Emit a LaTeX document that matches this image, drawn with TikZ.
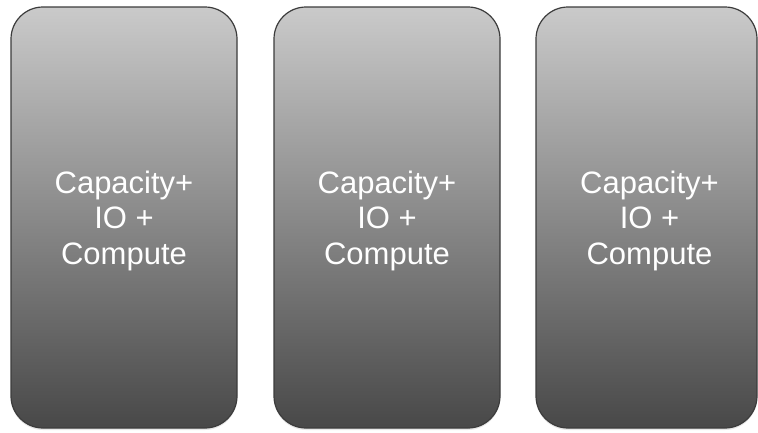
\documentclass[tikz,border=0pt]{standalone}
\usepackage{fontspec}
\setmainfont{Liberation Sans}
\usetikzlibrary{shadows,calc}

\tikzset{every picture/.style={line width=1.2pt}}
\tikzset{
  cellbox/.style={draw={rgb,255:red,60;green,60;blue,60}, rounded corners=32pt,
    top color={rgb,255:red,202;green,202;blue,202},
    bottom color={rgb,255:red,72;green,72;blue,72},
    minimum height=421pt, inner sep=0pt,
    drop shadow={shadow xshift=0pt, shadow yshift=-2pt, opacity=0.18}},
  celltext/.style={text=white, align=center, inner sep=0pt,
    font=\fontsize{31}{35.5}\selectfont}
}

\begin{document}
\begin{tikzpicture}[x=1pt,y=1pt,yscale=-1,xscale=1]
    \useasboundingbox (0,0) rectangle (758,432);

    % Storage cells
    \node [cellbox, minimum width=226pt] (cellA) at (124,217.5) {};
    \node [cellbox, minimum width=226pt] (cellB) at (387,217.5) {};
    \node [cellbox, minimum width=221pt] (cellC) at (646.5,217.5) {};

    % Text Nodes
    \node [celltext] (capA) at ($(cellA.center)+(0,3)$) {Capacity+\\IO +\\Compute};
    \node [celltext] (capB) at ($(cellB.center)+(0,3)$) {Capacity+\\IO +\\Compute};
    \node [celltext] (capC) at ($(cellC.center)+(3,3)$) {Capacity+\\IO +\\Compute};

\end{tikzpicture}
\end{document}
